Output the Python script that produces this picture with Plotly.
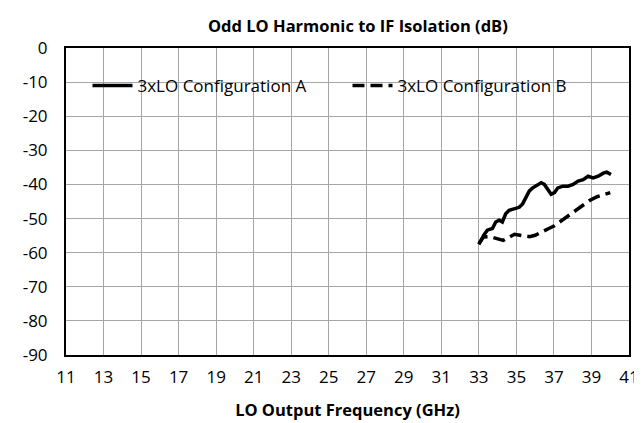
import plotly.graph_objects as go

# Data
freq_a = [33.0, 33.13, 33.27, 33.45, 33.72, 33.9, 34.08, 34.25, 34.43, 34.61, 34.88, 35.15,
          35.33, 35.51, 35.69, 35.87, 36.05, 36.32, 36.49, 36.67, 36.85, 37.03, 37.21, 37.48,
          37.75, 38.02, 38.29, 38.56, 38.82, 39.09, 39.36, 39.63, 39.81, 40.04]
iso_a = [-57.6, -56.2, -54.8, -53.4, -52.9, -51.0, -50.5, -51.0, -48.6, -47.6, -47.1, -46.7,
         -45.7, -43.8, -41.9, -41.0, -40.5, -39.5, -40.0, -41.4, -42.9, -42.4, -41.0, -40.5,
         -40.5, -40.0, -39.0, -38.6, -37.6, -38.1, -37.6, -36.7, -36.4, -37.1]

freq_b = [33.0, 33.25, 33.6, 34.0, 34.3, 34.6, 34.9, 35.4, 35.7, 36.0, 36.3, 36.7, 37.0,
          37.4, 37.7, 38.0, 38.3, 38.6, 38.9, 39.3, 39.6, 40.0]
iso_b = [-57.3, -55.4, -55.3, -55.8, -56.4, -55.5, -54.6, -55.1, -55.3, -54.9, -54.2, -53.0,
         -52.2, -50.6, -49.4, -48.4, -46.9, -45.8, -44.7, -43.6, -43.0, -42.4]

names = ["3xLO Configuration A", "3xLO Configuration B"]
x_ticks = list(range(11, 42, 2))
y_ticks = list(range(-90, 1, 10))
y_tick_text = [str(v) for v in y_ticks]

FONT = "Open Sans"

fig = go.Figure()
fig.add_trace(go.Scatter(x=freq_a, y=iso_a, mode="lines", name=names[0],
                         line=dict(color="black", width=3.5)))
fig.add_trace(go.Scatter(x=freq_b, y=iso_b, mode="lines", name=names[1],
                         line=dict(color="black", width=3.5, dash="12px,6px")))

fig.update_layout(
    width=642, height=423,
    margin=dict(l=58, r=21, t=40, b=76),
    paper_bgcolor="white", plot_bgcolor="white",
    font=dict(family=FONT, color="black", size=17),
    title=dict(text="<b>Odd LO Harmonic to IF Isolation (dB)</b>", x=0.545, xanchor="center",
               y=0.957, yanchor="middle", font=dict(size=16.5, family=FONT)),
    showlegend=True,
    legend=dict(orientation="h", x=0.5, xanchor="center", y=0.876, yanchor="middle",
                bgcolor="rgba(0,0,0,0)", font=dict(size=17, family=FONT), itemwidth=40,
                entrywidth=205, entrywidthmode="pixels"),
    shapes=[dict(type="rect", xref="paper", yref="paper", x0=0.018, x1=0.982,
                 y0=0.811, y1=0.98, fillcolor="white", line=dict(width=0), layer="below")],
)
fig.update_xaxes(range=[11, 41], tickvals=x_ticks, showgrid=True, gridcolor="#a6a6a6",
                 gridwidth=1, showline=True, linecolor="black", linewidth=2, mirror=True,
                 ticks="", zeroline=False, tickfont=dict(size=17), automargin=False,
                 ticklabelstandoff=6,
                 title=dict(text="<b>LO Output Frequency (GHz)</b>", font=dict(size=16.5),
                            standoff=17))
fig.update_yaxes(range=[-90, 0], tickvals=y_ticks, ticktext=y_tick_text, showgrid=True,
                 gridcolor="#a6a6a6", gridwidth=1, showline=True, linecolor="black",
                 linewidth=2, mirror=True, ticks="", zeroline=False, tickfont=dict(size=17),
                 automargin=False, ticklabelstandoff=13)

fig.write_html("out.html")
